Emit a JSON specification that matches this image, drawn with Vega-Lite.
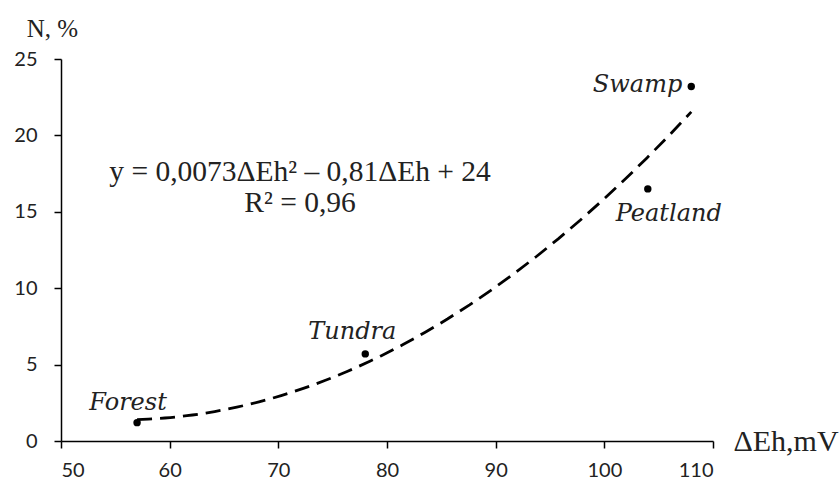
{
  "$schema": "https://vega.github.io/schema/vega-lite/v6.json",
  "width": 652,
  "height": 382,
  "autosize": {"type": "none"},
  "padding": {"left": 61, "top": 59, "right": 127, "bottom": 40},
  "background": "white",
  "config": {
    "view": {"stroke": null},
    "font": "Liberation Serif",
    "axis": {"grid": false, "domainColor": "black", "domainWidth": 1.5, "tickColor": "black", "tickWidth": 1.5, "tickSize": 7, "labelFont": "Lato", "labelFontSize": 20, "labelColor": "#222", "titleFont": "Liberation Serif", "titleFontWeight": "normal", "titleColor": "#222"}
  },
  "data": {"values": [
    {"zone": "Forest", "dEh": 57, "N": 1.2},
    {"zone": "Tundra", "dEh": 78, "N": 5.7},
    {"zone": "Peatland", "dEh": 104, "N": 16.5},
    {"zone": "Swamp", "dEh": 108, "N": 23.2}
  ]},
  "layer": [
    {
      "transform": [{"regression": "N", "on": "dEh", "method": "poly", "order": 2}],
      "mark": {"type": "line", "color": "black", "strokeWidth": 2.8, "strokeDash": [15, 8]},
      "encoding": {
        "x": {"field": "dEh", "type": "quantitative", "scale": {"domain": [50, 110], "nice": false, "zero": false},
          "axis": {"values": [50, 60, 70, 80, 90, 100, 110], "title": "ΔEh,mV", "titleFontSize": 30, "titleAngle": 0, "titleAlign": "left", "titleBaseline": "alphabetic", "titleX": 672, "titleY": 9, "labelPadding": 12}},
        "y": {"field": "N", "type": "quantitative", "scale": {"domain": [0, 25], "nice": false, "zero": true},
          "axis": {"values": [0, 5, 10, 15, 20, 25], "title": "N, %", "titleFontSize": 25, "titleAngle": 0, "titleAlign": "center", "titleBaseline": "alphabetic", "titleX": -9, "titleY": -23, "labelPadding": 17}}
      }
    },
    {
      "mark": {"type": "circle", "color": "black", "opacity": 1, "size": 55},
      "encoding": {
        "x": {"field": "dEh", "type": "quantitative"},
        "y": {"field": "N", "type": "quantitative"}
      }
    },
    {
      "transform": [{"filter": "datum.zone === 'Forest'"}],
      "mark": {"type": "text", "font": "DejaVu Serif", "fontStyle": "italic", "fontSize": 24, "align": "center", "baseline": "alphabetic", "dx": -9, "dy": -13, "color": "#222"},
      "encoding": {"x": {"field": "dEh", "type": "quantitative"}, "y": {"field": "N", "type": "quantitative"}, "text": {"field": "zone"}}
    },
    {
      "transform": [{"filter": "datum.zone === 'Tundra'"}],
      "mark": {"type": "text", "font": "DejaVu Serif", "fontStyle": "italic", "fontSize": 24, "align": "center", "baseline": "alphabetic", "dx": -13, "dy": -15, "color": "#222"},
      "encoding": {"x": {"field": "dEh", "type": "quantitative"}, "y": {"field": "N", "type": "quantitative"}, "text": {"field": "zone"}}
    },
    {
      "transform": [{"filter": "datum.zone === 'Peatland'"}],
      "mark": {"type": "text", "font": "DejaVu Serif", "fontStyle": "italic", "fontSize": 24, "align": "center", "baseline": "alphabetic", "dx": 21, "dy": 32, "color": "#222"},
      "encoding": {"x": {"field": "dEh", "type": "quantitative"}, "y": {"field": "N", "type": "quantitative"}, "text": {"field": "zone"}}
    },
    {
      "transform": [{"filter": "datum.zone === 'Swamp'"}],
      "mark": {"type": "text", "font": "DejaVu Serif", "fontStyle": "italic", "fontSize": 24, "align": "right", "baseline": "alphabetic", "dx": -9, "dy": 5, "color": "#222"},
      "encoding": {"x": {"field": "dEh", "type": "quantitative"}, "y": {"field": "N", "type": "quantitative"}, "text": {"field": "zone"}}
    },
    {
      "data": {"values": [{"eq": "y = 0,0073ΔEh² – 0,81ΔEh + 24", "r2": "R² = 0,96"}]},
      "mark": {"type": "text", "font": "Liberation Serif", "fontSize": 29.5, "align": "center", "baseline": "alphabetic", "color": "#222"},
      "encoding": {"x": {"datum": 72}, "y": {"datum": 17.0}, "text": {"field": "eq"}}
    },
    {
      "data": {"values": [{"eq": "y = 0,0073ΔEh² – 0,81ΔEh + 24", "r2": "R² = 0,96"}]},
      "mark": {"type": "text", "font": "Liberation Serif", "fontSize": 29.5, "align": "center", "baseline": "alphabetic", "color": "#222"},
      "encoding": {"x": {"datum": 72}, "y": {"datum": 15.0}, "text": {"field": "r2"}}
    }
  ]
}
